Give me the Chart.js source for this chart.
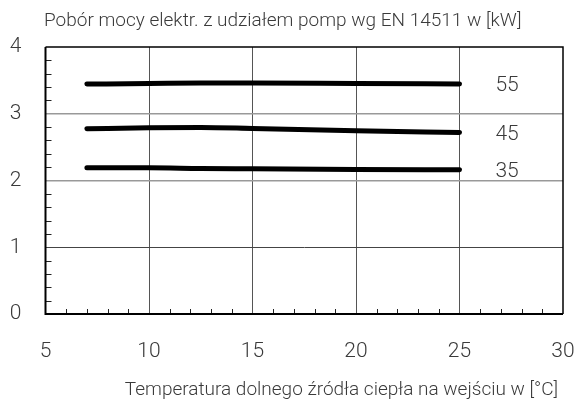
<!DOCTYPE html>
<html>
<head>
<meta charset="utf-8">
<script src="https://cdn.jsdelivr.net/npm/chart.js@4.4.0/dist/chart.umd.min.js"></script>
<style>
  body { margin: 0; background: #fff; }
  #wrap { width: 576px; height: 404px; }
</style>
</head>
<body>
<div id="wrap"><canvas id="powerChart" width="576" height="404"></canvas></div>
<script>
// Data
const temps = [7, 10, 12.5, 15, 20, 25];
const p55 = [3.445, 3.453, 3.46, 3.462, 3.453, 3.445];
const p45 = [2.775, 2.79, 2.795, 2.78, 2.745, 2.72];
const p35 = [2.19, 2.19, 2.18, 2.175, 2.165, 2.16];
const seriesNames = ['55', '45', '35'];
const xTicks = [5, 10, 15, 20, 25, 30];
const yTicks = [0, 1, 2, 3, 4];

const FONT = 'Roboto, "Liberation Sans", sans-serif';
const TEXT = '#3a3a3a';

function pts(vals) {
    return vals.map((v, i) => ({ x: temps[i], y: v }));
}

// frame, minor ticks, curve labels, titles
const decor = {
    id: 'decor',
    beforeDatasetsDraw(chart) {
        const { ctx, chartArea: a, scales: { x, y } } = chart;
        ctx.save();
        ctx.strokeStyle = '#222';
        ctx.lineWidth = 1;
        ctx.beginPath();
        for (let v = 6; v < 30; v++) {
            if (v % 5 === 0) continue;
            const px = Math.round(x.getPixelForValue(v)) + 0.5;
            ctx.moveTo(px, a.bottom);
            ctx.lineTo(px, a.bottom - 5);
        }
        for (let i = 1; i < 20; i++) {
            if (i % 5 === 0) continue;
            const py = Math.round(y.getPixelForValue(i * 0.2)) + 0.5;
            ctx.moveTo(a.left, py);
            ctx.lineTo(a.left + 6, py);
        }
        ctx.stroke();
        ctx.restore();
    },
    afterDraw(chart) {
        const { ctx, chartArea: a, scales: { x, y } } = chart;
        ctx.save();
        // thin top / right frame
        ctx.strokeStyle = '#000';
        ctx.lineWidth = 1.5;
        ctx.beginPath();
        ctx.moveTo(a.left, a.top);
        ctx.lineTo(a.right, a.top);
        ctx.lineTo(a.right, a.bottom);
        ctx.stroke();
        // thick left / bottom frame
        ctx.lineWidth = 2;
        ctx.beginPath();
        ctx.moveTo(a.left, a.top);
        ctx.lineTo(a.left, a.bottom);
        ctx.lineTo(a.right, a.bottom);
        ctx.stroke();

        // curve labels
        ctx.fillStyle = TEXT;
        ctx.font = '300 21px ' + FONT;
        ctx.textAlign = 'center';
        ctx.textBaseline = 'middle';
        chart.data.datasets.forEach((ds, i) => {
            const last = ds.data[ds.data.length - 1];
            ctx.fillText(seriesNames[i], x.getPixelForValue(27.3), y.getPixelForValue(last.y) + 2);
        });

        // titles
        ctx.font = '300 19px ' + FONT;
        ctx.textAlign = 'left';
        ctx.fillText('Pobór mocy elektr. z udziałem pomp wg EN 14511 w [kW]', 44, 21);
        ctx.textAlign = 'right';
        ctx.fillText('Temperatura dolnego źródła ciepła na wejściu w [°C]', 558, 390);
        ctx.restore();
    }
};

new Chart(document.getElementById('powerChart'), {
    type: 'line',
    data: {
        datasets: [p55, p45, p35].map((vals, i) => ({
            label: seriesNames[i],
            data: pts(vals),
            borderColor: '#000',
            borderWidth: 5,
            borderCapStyle: 'round',
            pointRadius: 0,
            cubicInterpolationMode: 'monotone',
            fill: false
        }))
    },
    options: {
        responsive: false,
        animation: false,
        layout: { padding: { left: 0, right: 13, top: 47, bottom: 0 } },
        plugins: {
            legend: { display: false },
            tooltip: { enabled: false }
        },
        scales: {
            x: {
                type: 'linear',
                min: 5,
                max: 30,
                afterBuildTicks: s => { s.ticks = xTicks.map(v => ({ value: v })); },
                afterFit: s => { s.height = 90; s.paddingLeft = 0; s.paddingRight = 0; },
                ticks: {
                    color: TEXT,
                    font: { family: FONT, size: 21, weight: 300 },
                    padding: 25,
                    maxRotation: 0,
                    autoSkip: false
                },
                grid: {
                    drawTicks: false,
                    color: ctx => (ctx.tick && (ctx.tick.value === 5 || ctx.tick.value === 30)) ? 'rgba(0,0,0,0)' : '#555',
                    lineWidth: 1
                },
                border: { display: false }
            },
            y: {
                min: 0,
                max: 4,
                afterBuildTicks: s => { s.ticks = yTicks.map(v => ({ value: v })); },
                afterFit: s => { s.width = 45.5; s.paddingTop = 0; s.paddingBottom = 0; },
                ticks: {
                    color: TEXT,
                    font: { family: FONT, size: 21, weight: 300 },
                    padding: 24,
                    autoSkip: false
                },
                grid: {
                    drawTicks: false,
                    color: ctx => {
                        const v = ctx.tick && ctx.tick.value;
                        if (v === 0 || v === 4) return 'rgba(0,0,0,0)';
                        return v === 1 ? '#444' : '#999';
                    },
                    lineWidth: ctx => (ctx.tick && ctx.tick.value === 1) ? 1 : 1.5
                },
                border: { display: false }
            }
        }
    },
    plugins: [decor]
});
</script>
</body>
</html>
